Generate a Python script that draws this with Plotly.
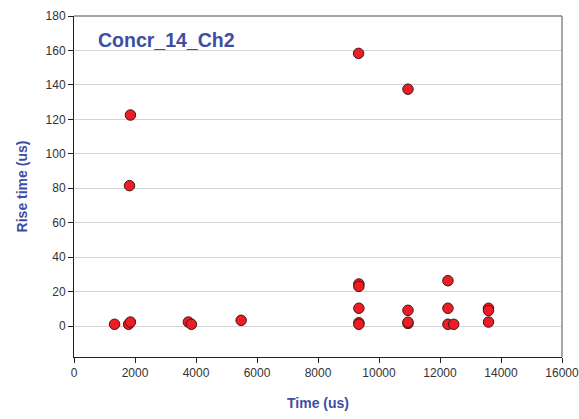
import plotly.graph_objects as go

time_us = [1330, 1790, 1850, 1820, 1850, 3750, 3850, 5480,
           9340, 9340, 9340, 9340, 9340, 9330,
           10950, 10950, 10950, 10950,
           12260, 12260, 12260, 12450,
           13590, 13590, 13590]
rise_us = [1.0, 1.0, 2.3, 81.5, 122.5, 2.3, 1.0, 3.3,
           24.4, 23.0, 10.3, 1.9, 1.0, 158.3,
           9.1, 1.5, 2.2, 137.5,
           26.3, 10.3, 1.0, 1.0,
           10.3, 9.0, 2.3]

x_ticks = [0, 2000, 4000, 6000, 8000, 10000, 12000, 14000, 16000]
x_labels = [str(v) for v in x_ticks]
y_ticks = [0, 20, 40, 60, 80, 100, 120, 140, 160, 180]

blue = "#3D4EA3"
font_family = "Liberation Sans, Arial, sans-serif"

fig = go.Figure()
fig.add_trace(go.Scatter(
    x=time_us, y=rise_us, mode="markers",
    marker=dict(size=10.5, color="#EE1C24", line=dict(color="#3a1a1a", width=1)),
    showlegend=False,
))

fig.update_layout(
    width=579, height=419,
    margin=dict(l=74, r=17, t=16, b=62),
    paper_bgcolor="white", plot_bgcolor="white",
    font=dict(family=font_family, size=12, color="#333333"),
    xaxis=dict(range=[0, 16000], tickvals=x_ticks, ticktext=x_labels,
               ticks="outside", ticklen=5, ticklabeloverflow="allow", automargin=False,
               tickcolor="#222", showline=True, linecolor="#222", linewidth=1,
               showgrid=False, zeroline=False, mirror=False,
               tickfont=dict(size=12, color="#333"),
               title=dict(text="<b>Time (us)</b>", font=dict(size=14, color=blue), standoff=18)),
    yaxis=dict(range=[-18, 180], tickvals=y_ticks, ticks="outside", ticklen=5,
               automargin=False,
               tickcolor="#222", showline=True, linecolor="#222", linewidth=1,
               showgrid=True, gridcolor="#d4d4d4", gridwidth=1, zeroline=False,
               tickfont=dict(size=12, color="#333"),
               title=dict(text="<b>Rise time (us)</b>", font=dict(size=14, color=blue), standoff=14)),
    shapes=[
        dict(type="line", xref="paper", yref="paper", x0=0, x1=1, y0=1, y1=1,
             line=dict(color="#888888", width=1.5)),
        dict(type="line", xref="paper", yref="paper", x0=1, x1=1, y0=0, y1=1,
             line=dict(color="#888888", width=1.5)),
    ],
    annotations=[
        dict(text="<b>Concr_14_Ch2</b>", xref="paper", yref="paper",
             x=0.045, y=0.93, xanchor="left", yanchor="middle", showarrow=False,
             font=dict(size=19.5, color=blue, family=font_family)),
    ],
)

fig.write_html("out.html")
